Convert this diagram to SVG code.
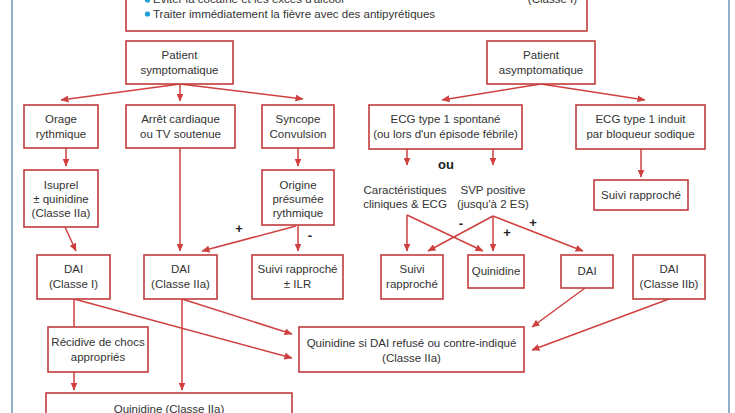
<svg xmlns="http://www.w3.org/2000/svg" width="735" height="413" viewBox="0 0 735 413">
<style>
.box{fill:#fff;stroke:#c23b3d;stroke-width:1.6}
.t{font-family:"Liberation Sans",Arial,sans-serif;font-size:11.5px;fill:#333;text-anchor:middle}
.tl{font-family:"Liberation Sans",Arial,sans-serif;font-size:11.5px;fill:#333}
.lab{font-family:"Liberation Sans",Arial,sans-serif;font-size:13px;font-weight:bold;fill:#222;text-anchor:middle}
.c{stroke:#cf4140;stroke-width:1.5;fill:none}
.c.a{marker-end:url(#ah)}
.frame{stroke:#8fb1c9;stroke-width:2}
</style>
<defs>
<marker id="ah" markerUnits="userSpaceOnUse" markerWidth="8" markerHeight="7" refX="7.5" refY="3.5" orient="auto">
<path d="M0,0 L8,3.5 L0,7 z" fill="#cf4140"/>
</marker>
</defs>
<rect x="0" y="0" width="735" height="413" fill="#fff"/>
<line class="frame" x1="12" y1="0" x2="12" y2="413"/>
<line class="frame" x1="729" y1="0" x2="729" y2="413"/>

<g id="conseils">
<rect class="box" x="126" y="-20" width="461" height="51"/>
<circle cx="147.5" cy="0" r="2.6" fill="#1a9fd6"/>
<circle cx="147.5" cy="14" r="2.6" fill="#1a9fd6"/>
<text class="tl" x="153" y="3">Éviter la cocaïne et les excès d'alcool</text>
<text class="tl" x="153" y="17.5">Traiter immédiatement la fièvre avec des antipyrétiques</text>
<text class="tl" x="577" y="3" text-anchor="end">(Classe I)</text>
</g>

<g id="connectors">
<line class="c a" x1="180" y1="84" x2="61" y2="100"/>
<line class="c a" x1="180" y1="84" x2="180" y2="101"/>
<line class="c a" x1="180" y1="84" x2="303" y2="99"/>
<line class="c a" x1="541" y1="84" x2="442" y2="100"/>
<line class="c a" x1="541" y1="84" x2="645" y2="100"/>
<line class="c a" x1="66" y1="148" x2="66" y2="166"/>
<line class="c a" x1="180" y1="148" x2="180" y2="251"/>
<line class="c a" x1="298" y1="148" x2="298" y2="166"/>
<line class="c a" x1="65" y1="227" x2="76" y2="251"/>
<line class="c a" x1="296" y1="226" x2="202" y2="251"/>
<line class="c a" x1="298" y1="226" x2="298" y2="251"/>
<line class="c a" x1="407" y1="149" x2="407" y2="165"/>
<line class="c a" x1="493" y1="149" x2="493" y2="165"/>
<line class="c a" x1="641" y1="149" x2="641" y2="177"/>
<line class="c a" x1="407" y1="215" x2="407" y2="251"/>
<line class="c a" x1="407" y1="215" x2="483" y2="251"/>
<line class="c a" x1="493" y1="216" x2="428" y2="251"/>
<line class="c a" x1="493" y1="216" x2="493" y2="251"/>
<line class="c a" x1="493" y1="216" x2="583" y2="251"/>
<line class="c" x1="74" y1="299" x2="74" y2="327"/>
<line class="c a" x1="74" y1="299" x2="292" y2="358"/>
<line class="c a" x1="182" y1="299" x2="292" y2="334"/>
<line class="c a" x1="182" y1="299" x2="182" y2="390"/>
<line class="c a" x1="74" y1="372" x2="74" y2="390"/>
<line class="c a" x1="585" y1="288" x2="532" y2="327"/>
<line class="c a" x1="669" y1="299" x2="532" y2="350"/>
<text class="lab" x="239" y="233">+</text>
<text class="lab" x="310" y="240">-</text>
<text class="lab" x="446" y="169">ou</text>
<text class="lab" x="461" y="228">-</text>
<text class="lab" x="507" y="237">+</text>
<text class="lab" x="533" y="227">+</text>
</g>

<g id="patient-symptomatique">
<rect class="box" x="126" y="41" width="107" height="43"/>
<text class="t" x="179.5" y="59">Patient</text>
<text class="t" x="179.5" y="74">symptomatique</text>
</g>
<g id="patient-asymptomatique">
<rect class="box" x="487" y="41" width="108" height="43"/>
<text class="t" x="541" y="59">Patient</text>
<text class="t" x="541" y="74">asymptomatique</text>
</g>
<g id="orage">
<rect class="box" x="24" y="105" width="74" height="43"/>
<text class="t" x="61" y="123">Orage</text>
<text class="t" x="61" y="138">rythmique</text>
</g>
<g id="arret">
<rect class="box" x="126" y="105" width="109" height="43"/>
<text class="t" x="180.5" y="123">Arrêt cardiaque</text>
<text class="t" x="180.5" y="138">ou TV soutenue</text>
</g>
<g id="syncope">
<rect class="box" x="262" y="105" width="72" height="43"/>
<text class="t" x="298" y="123">Syncope</text>
<text class="t" x="298" y="138">Convulsion</text>
</g>
<g id="ecg-spontane">
<rect class="box" x="369" y="105" width="153" height="44"/>
<text class="t" x="445.5" y="123">ECG type 1 spontané</text>
<text class="t" x="445.5" y="138">(ou lors d'un épisode fébrile)</text>
</g>
<g id="ecg-induit">
<rect class="box" x="576" y="105" width="129" height="44"/>
<text class="t" x="640.5" y="123">ECG type 1 induit</text>
<text class="t" x="640.5" y="138">par bloqueur sodique</text>
</g>
<g id="isuprel">
<rect class="box" x="24" y="170" width="74" height="57"/>
<text class="t" x="61" y="189">Isuprel</text>
<text class="t" x="61" y="203">± quinidine</text>
<text class="t" x="61" y="217">(Classe IIa)</text>
</g>
<g id="origine">
<rect class="box" x="262" y="170" width="72" height="55"/>
<text class="t" x="298" y="189">Origine</text>
<text class="t" x="298" y="203">présumée</text>
<text class="t" x="298" y="217">rythmique</text>
</g>
<g id="suivi-induit">
<rect class="box" x="594" y="180" width="94" height="30"/>
<text class="t" x="641" y="199">Suivi rapproché</text>
</g>
<g id="caracteristiques">
<text class="t" x="405" y="194">Caractéristiques</text>
<text class="t" x="405" y="208">cliniques &amp; ECG</text>
</g>
<g id="svp">
<text class="t" x="493" y="194">SVP positive</text>
<text class="t" x="493" y="208">(jusqu'à 2 ES)</text>
</g>
<g id="dai-classe-i">
<rect class="box" x="37" y="255" width="73" height="44"/>
<text class="t" x="73.5" y="273">DAI</text>
<text class="t" x="73.5" y="288">(Classe I)</text>
</g>
<g id="dai-classe-iia">
<rect class="box" x="144" y="255" width="73" height="44"/>
<text class="t" x="180.5" y="273">DAI</text>
<text class="t" x="180.5" y="288">(Classe IIa)</text>
</g>
<g id="suivi-ilr">
<rect class="box" x="252" y="255" width="91" height="44"/>
<text class="t" x="297.5" y="273">Suivi rapproché</text>
<text class="t" x="297.5" y="288">± ILR</text>
</g>
<g id="suivi-rapproche">
<rect class="box" x="381" y="255" width="62" height="44"/>
<text class="t" x="412" y="273">Suivi</text>
<text class="t" x="412" y="288">rapproché</text>
</g>
<g id="quinidine">
<rect class="box" x="468" y="255" width="56" height="33"/>
<text class="t" x="496" y="275">Quinidine</text>
</g>
<g id="dai">
<rect class="box" x="561" y="255" width="52" height="33"/>
<text class="t" x="587" y="275">DAI</text>
</g>
<g id="dai-classe-iib">
<rect class="box" x="633" y="255" width="72" height="44"/>
<text class="t" x="669" y="273">DAI</text>
<text class="t" x="669" y="288">(Classe IIb)</text>
</g>
<g id="recidive">
<rect class="box" x="48" y="327" width="100" height="45"/>
<text class="t" x="98" y="346">Récidive de chocs</text>
<text class="t" x="98" y="361">appropriés</text>
</g>
<g id="quinidine-si-dai">
<rect class="box" x="299" y="327" width="225" height="45"/>
<text class="t" x="411.5" y="347">Quinidine si DAI refusé ou contre-indiqué</text>
<text class="t" x="411.5" y="362">(Classe IIa)</text>
</g>
<g id="quinidine-classe-iia">
<rect class="box" x="46" y="393" width="246" height="40"/>
<text class="t" x="169" y="413">Quinidine (Classe IIa)</text>
</g>
</svg>
